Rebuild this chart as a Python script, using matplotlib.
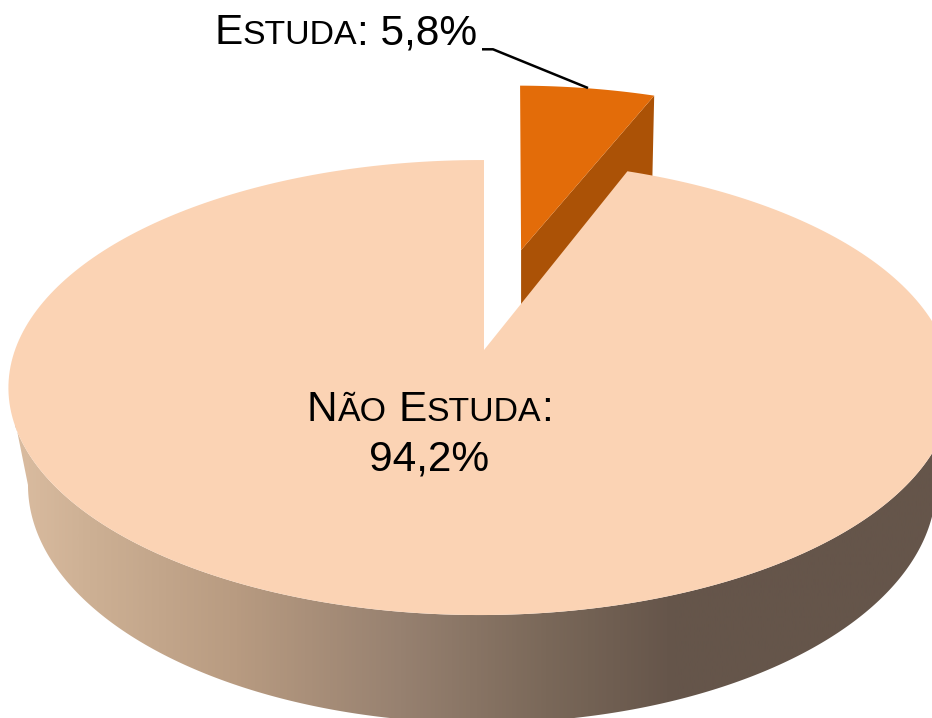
import numpy as np
import matplotlib
matplotlib.use("Agg")
import matplotlib.pyplot as plt
from matplotlib.colors import LinearSegmentedColormap
from matplotlib.patches import Polygon

# === DATA ===
VALUES = [5.8, 94.2]  # Estuda, Nao estuda

# === CONFIG ===
W, H = 932, 718
K = 0.165  # perspective
TOP = dict(x0=484, y0=350, bx=465.5, by=221.3, m=0.0075)
BOTTOM = dict(x0=482, y0=445.7, bx=447.8, by=231.5, m=0.0)
EXPLODE_U, EXPLODE_V, EXPLODE_SHIFT = 0.0176, 0.488, 29.5
SMALL_DEPTH = 90
FACE = '#FBD3B4'
SMALL_FACE = '#E36C09'
SMALL_WALL = '#AB5206'
WALL_STOPS = ['#DABCA0', '#CDB094', '#B89B81', '#978170', '#7A6859', '#65554A', '#65554A']
WALL_POS = [0.0, 0.08, 0.24, 0.42, 0.58, 0.72, 1.0]
FONT = 'Liberation Sans'
BIG, SMALL = 30.5, 24.4


def project(u, v, plane):
    w = 1 + K * v + plane['m'] * u
    return plane['x0'] + plane['bx'] * u / w, plane['y0'] - plane['by'] * v / w


def arc(start, end, plane, du=0.0, dv=0.0):
    # angles clockwise from 12 o'clock, degrees
    t = np.radians(np.linspace(start, end, 300))
    return project(np.sin(t) + du, np.cos(t) + dv, plane)


def small_caps(ax, x, y, runs):
    rend = ax.figure.canvas.get_renderer()
    for s, size in runs:
        t = ax.text(x, y, s, fontsize=size, family=FONT, color='black', va='baseline', ha='left', zorder=10)
        x += rend.get_text_width_height_descent(s, t.get_fontproperties(), False)[0] * (W / ax.bbox.width)


fig = plt.figure(figsize=(W / 100, H / 100), dpi=100)
ax = fig.add_axes([0, 0, 1, 1])

angle = 360 * VALUES[0] / sum(VALUES)

# exploded slice, partly hidden by the big one
ax_u, ax_v = project(EXPLODE_U, EXPLODE_V, TOP)
sx, sy = arc(0, angle, TOP, EXPLODE_U, EXPLODE_V)
sx = sx + EXPLODE_SHIFT
ax_u += EXPLODE_SHIFT
ax.add_patch(Polygon([(ax_u, ax_v), (sx[-1], sy[-1]), (sx[-1] - 2, sy[-1] + SMALL_DEPTH), (ax_u, ax_v + SMALL_DEPTH)],
                     fc=SMALL_WALL, ec='none', zorder=1))
ax.add_patch(Polygon(np.r_[[[ax_u, ax_v]], np.c_[sx, sy]], fc=SMALL_FACE, ec='none', zorder=2))

# wall of the big slice, gradient from left to right
lim = np.degrees(np.arccos(-K))
tx, ty = arc(lim, 360 - lim, TOP)
bx, by = arc(360 - lim, lim, BOTTOM)
wall = Polygon(np.c_[np.r_[tx, bx], np.r_[ty, by]], fc='none', ec='none', zorder=3)
ax.add_patch(wall)
cmap = LinearSegmentedColormap.from_list('wall', list(zip(WALL_POS, WALL_STOPS)))
img = ax.imshow(np.linspace(0, 1, 512).reshape(1, -1), cmap=cmap, extent=[15, 932, H, 0],
                aspect='auto', zorder=3)
img.set_clip_path(wall)

# top of the big slice
fx, fy = arc(angle, 360, TOP)
ox, oy = project(0, 0, TOP)
ax.add_patch(Polygon(np.r_[[[ox, oy]], np.c_[fx, fy]], fc=FACE, ec='none', zorder=4))

# labels
ax.plot([482, 493, 588], [49.3, 49.3, 88], color='black', lw=1.8, zorder=9, solid_capstyle='butt')
small_caps(ax, 214, 44, [('E', BIG), ('STUDA', SMALL), (': 5,8%', BIG)])
small_caps(ax, 307, 421, [('N', BIG), ('ÃO', SMALL), (' ', BIG), ('E', BIG), ('STUDA', SMALL), (':', BIG)])
ax.text(429, 470, '94,2%', fontsize=BIG, family=FONT, color='black', va='baseline', ha='center', zorder=10)

ax.set_xlim(0, W)
ax.set_ylim(H, 0)
ax.axis('off')
fig.savefig('out.png', dpi=100)
